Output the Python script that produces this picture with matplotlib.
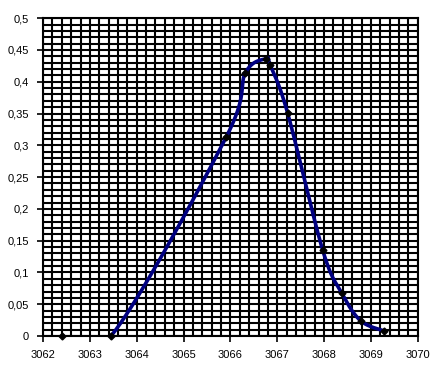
import numpy as np
import matplotlib
matplotlib.use("Agg")
import matplotlib.pyplot as plt
from matplotlib import font_manager as fm
from matplotlib.ticker import MultipleLocator, FuncFormatter

fam = 'Liberation Sans'
for f in fm.fontManager.ttflist:
    if f.name == 'Liberation Sans' and f.style == 'normal' and f.weight in (400, 'normal') and 'Narrow' not in f.fname:
        fm.fontManager.addfont(f.fname)
        break
plt.rcParams['font.family'] = [fam, 'DejaVu Sans']

x_vals = [3062.4, 3063.45, 3065.91, 3066.32, 3066.76, 3066.85, 3067.22, 3067.97, 3068.38, 3068.78, 3069.28]
y_vals = [0.0, 0.0, 0.313, 0.414, 0.436, 0.426, 0.351, 0.135, 0.067, 0.024, 0.008]
x_ticks = [3062, 3063, 3064, 3065, 3066, 3067, 3068, 3069, 3070]
y_ticks = [0, 0.05, 0.1, 0.15, 0.2, 0.25, 0.3, 0.35, 0.4, 0.45, 0.5]


def smooth(xs, ys, n=40):
    xs = np.asarray(xs, float)
    ys = np.asarray(ys, float)
    P = np.column_stack([xs, ys])
    P = np.vstack([P[0], P, P[-1]])
    out = []
    for i in range(1, len(P) - 2):
        p0, p1, p2, p3 = P[i - 1], P[i], P[i + 1], P[i + 2]
        c1 = p1 + (p2 - p0) / 6.0
        c2 = p2 - (p3 - p1) / 6.0
        t = np.linspace(0, 1, n)[:, None]
        seg = ((1 - t) ** 3) * p1 + 3 * ((1 - t) ** 2) * t * c1 + 3 * (1 - t) * t ** 2 * c2 + t ** 3 * p2
        out.append(seg)
    arr = np.vstack(out)
    return arr[:, 0], arr[:, 1]


fig = plt.figure(figsize=(4.44, 3.78), dpi=100)
ax = fig.add_axes([0.097, 0.111, 0.844, 0.841])

sx, sy = smooth(x_vals, y_vals)
ax.plot(sx, sy, color='#000080', lw=2.6, zorder=3, solid_capstyle='butt')
ax.plot(x_vals, y_vals, linestyle='none', marker='D', ms=3.5, color='black', zorder=4, clip_on=False)

ax.set_xlim(3062, 3070)
ax.set_ylim(0, 0.5)
ax.set_xticks(x_ticks)
ax.set_yticks(y_ticks)
ax.xaxis.set_minor_locator(MultipleLocator(0.2))
ax.yaxis.set_minor_locator(MultipleLocator(0.01))
ax.grid(which='both', color='black', lw=1.5)
ax.set_axisbelow(True)

fmt = lambda v, p: ('%g' % round(v, 2)).replace('.', ',')
ax.yaxis.set_major_formatter(FuncFormatter(fmt))
ax.xaxis.set_major_formatter(FuncFormatter(lambda v, p: '%d' % round(v)))
ax.tick_params(which='major', direction='out', length=4, width=1.2, labelsize=8, color='black', pad=6)
ax.tick_params(which='minor', length=0)
for s in ax.spines.values():
    s.set_color('black')
    s.set_linewidth(1.5)

fig.savefig('out.png', dpi=100)
